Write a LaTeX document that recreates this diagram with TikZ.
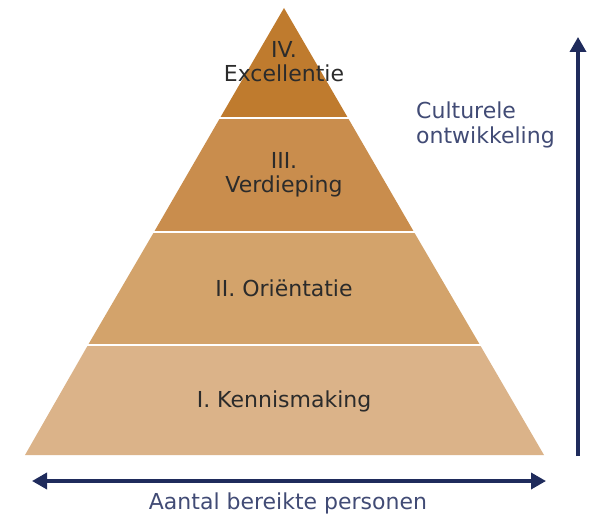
\documentclass[tikz,border=0pt]{standalone}
\usepackage{fontspec}
\setmainfont{DejaVu Sans}
\usepackage{xcolor}
\usetikzlibrary{positioning, arrows.meta}

\definecolor{levelfour}{HTML}{BF7B2E}
\definecolor{levelthree}{HTML}{C98D4D}
\definecolor{levelone}{HTML}{DBB389}
\definecolor{leveltwo}{HTML}{D3A36B}
\definecolor{navy}{HTML}{1F2B5C}
\definecolor{labeltext}{HTML}{2B2B2B}

\begin{document}
\begin{tikzpicture}[x=1pt, y=-1pt,
    level/.style={font=\fontsize{22}{24}\selectfont, text=labeltext, align=center, inner sep=0pt},
    side/.style={font=\fontsize{22}{25}\selectfont, text=navy!85!white, align=left, inner sep=0pt},
    tip/.style={Triangle[width=16pt, length=15pt]},
    axis/.style={navy, line width=3.5pt}]
            \useasboundingbox (0,0) rectangle (593,513);

            % pyramid layers
            \fill[levelfour] (284,8) -- (348,118) -- (220,118) -- cycle;
            \fill[levelthree] (220,118) -- (348,118) -- (414,232) -- (154,232) -- cycle;
            \fill[leveltwo] (154,232) -- (414,232) -- (480,345) -- (88,345) -- cycle;
            \fill[levelone] (88,345) -- (480,345) -- (544,455) -- (25,455) -- cycle;
            \draw[white, line width=2pt] (219,118) -- (349,118);
            \draw[white, line width=2pt] (153,232) -- (415,232);
            \draw[white, line width=2pt] (87,345) -- (481,345);

            \node[level] (four) at (284,62) {IV.\\Excellentie};
            \node[level] (three) at (284,175) {III.\\Verdieping};
            \node[level] (two) at (284,288) {II. Oriëntatie};
            \node[level] (one) at (284,401) {I. Kennismaking};

            % axes
            \coordinate (vlow) at (578,456);
            \coordinate (vhigh) at (578,37);
            \coordinate (hleft) at (32,481);
            \coordinate (hright) at (546,481);
            \draw[axis, -{Triangle[width=16pt, length=15pt]}] (vlow) -- (vhigh);
            \draw[axis, {Triangle[width=16pt, length=15pt]}-{Triangle[width=16pt, length=15pt]}] (hleft) -- (hright);

            \node[side, anchor=west] (culture) at (416,125) {Culturele\\ontwikkeling};
            \node[side] (reach) at (288,503) {Aantal bereikte personen};
        \end{tikzpicture}
\end{document}
